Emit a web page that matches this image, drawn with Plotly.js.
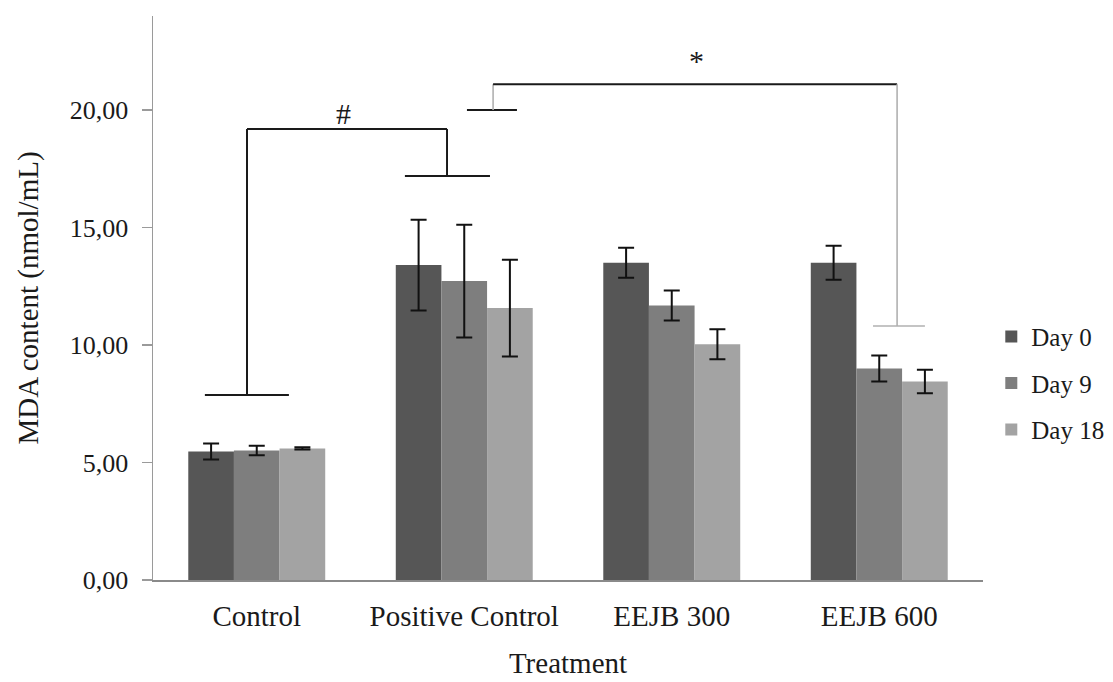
<!DOCTYPE html>
<html>
<head>
<meta charset="utf-8">
<script src="https://cdn.plot.ly/plotly-3.0.1.min.js"></script>
<style>html,body{margin:0;padding:0;background:#fff;}#chart{width:1113px;height:682px;}</style>
</head>
<body>
<div id="chart"></div>
<script>
// ---- data ----
const categories = ["Control", "Positive Control", "EEJB 300", "EEJB 600"];
const seriesNames = ["Day 0", "Day 9", "Day 18"];
const day0  = [5.47, 13.40, 13.50, 13.50];
const day9  = [5.51, 12.72, 11.68, 9.00];
const day18 = [5.60, 11.57, 10.03, 8.45];
const err0  = [0.34, 1.93, 0.64, 0.72];
const err9  = [0.20, 2.40, 0.64, 0.55];
const err18 = [0.05, 2.06, 0.64, 0.50];
const yTickVals = [0, 5, 10, 15, 20];

// significance brackets: [x0, y0, x1, y1, style] in category-index / value units
const hashBracket = [
  [-0.25, 7.87, 0.155, 7.87, "dark"],
  [-0.047, 7.87, -0.047, 19.19, "dark"],
  [-0.047, 19.19, 0.917, 19.19, "dark"],
  [0.917, 19.19, 0.917, 17.19, "dark"],
  [0.714, 17.19, 1.124, 17.19, "dark"]
];
const starBracket = [
  [1.013, 20.0, 1.254, 20.0, "dark"],
  [1.139, 20.0, 1.139, 21.1, "light"],
  [1.139, 21.1, 3.086, 21.1, "dark"],
  [3.086, 21.1, 3.086, 10.81, "light"],
  [2.97, 10.81, 3.22, 10.81, "light"]
];
const marks = [["#", 0.416, 19.85], ["*", 2.12, 22.1]];

const colors = ["#565656", "#7e7e7e", "#a3a3a3"];
const font = "Liberation Serif, Times New Roman, serif";

const vals = [day0, day9, day18];
const errs = [err0, err9, err18];
const traces = seriesNames.map((n, i) => ({
  type: "bar",
  name: n,
  legendgroup: n,
  x: categories,
  y: vals[i],
  marker: {color: colors[i], line: {width: 0}},
  error_y: {type: "data", array: errs[i], visible: true, color: "#111", thickness: 2, width: 8},
  hoverinfo: "none"
}));

const shapes = hashBracket.concat(starBracket).map(s => ({
  type: "line", xref: "x", yref: "y",
  x0: s[0], y0: s[1], x1: s[2], y1: s[3],
  line: {color: s[4] === "dark" ? "#1a1a1a" : "#b0b0b0", width: s[4] === "dark" ? 2 : 1.6}
}));

const annotations = marks.map(m => ({
  text: m[0], x: m[1], y: m[2], xref: "x", yref: "y",
  showarrow: false, font: {family: font, size: 30, color: "#1a1a1a"}
}));

const layout = {
  width: 1113, height: 682,
  margin: {l: 153, r: 130, t: 16, b: 102, pad: 0, autoexpand: false},
  paper_bgcolor: "#fff", plot_bgcolor: "#fff",
  separators: ",.",
  barmode: "group",
  bargap: 0.34,
  bargroupgap: 0,
  showlegend: true,
  legend: {
    x: 1.01, xanchor: "left", y: 0.472, yanchor: "top",
    traceorder: "grouped", tracegroupgap: 11,
    font: {family: font, size: 25, color: "#1a1a1a"},
    itemwidth: 30, bgcolor: "rgba(0,0,0,0)"
  },
  xaxis: {
    type: "category", range: [-0.5, 3.5],
    showline: true, linecolor: "#8a8a8a", linewidth: 2,
    ticks: "", showgrid: false, zeroline: false,
    ticklabelstandoff: 9,
    tickfont: {family: font, size: 29, color: "#1a1a1a"},
    title: {text: "Treatment", font: {family: font, size: 29, color: "#1a1a1a"}, standoff: 22}
  },
  yaxis: {
    range: [0, 24],
    tickvals: yTickVals, tickformat: ".2f",
    showline: true, linecolor: "#9a9a9a", linewidth: 1.5,
    ticks: "outside", ticklen: 10, tickcolor: "#9a9a9a", tickwidth: 1.5,
    showgrid: false, zeroline: false,
    ticklabelstandoff: 8,
    tickfont: {family: font, size: 26, color: "#1a1a1a"},
    title: {text: "MDA content (nmol/mL)", font: {family: font, size: 29, color: "#1a1a1a"}, standoff: 22}
  },
  shapes: shapes,
  annotations: annotations
};

Plotly.newPlot("chart", traces, layout, {staticPlot: true, displayModeBar: false});
</script>
</body>
</html>
